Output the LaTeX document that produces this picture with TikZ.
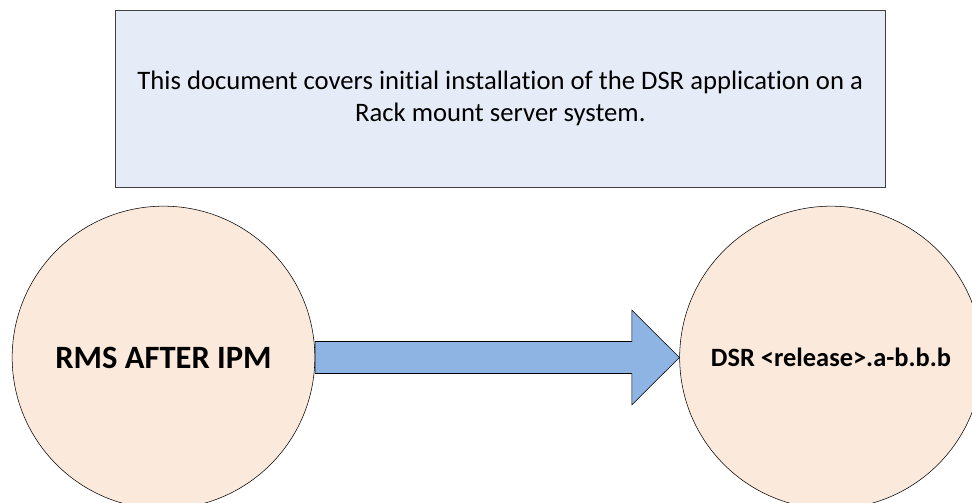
\documentclass[tikz,border=0pt]{standalone}
\usepackage{fontspec}
\setmainfont{Carlito}[Ligatures=NoCommon]
\definecolor{notefill}{HTML}{E6ECF7}
\definecolor{notedraw}{HTML}{404040}
\definecolor{stagefill}{HTML}{FBE9DC}
\definecolor{flowfill}{HTML}{8EB4E3}
\begin{document}
\begin{tikzpicture}[x=0.75pt,y=-0.75pt]
            \clip (0,0) rectangle (972,503);
            \begin{scope}[every node/.style={circle,draw=black,fill=stagefill,inner sep=0pt,minimum size=227pt,font=\bfseries}]
                \node (rms)[font=\fontsize{24.4}{29}\selectfont\bfseries] at (163.5,357.5) {RMS AFTER IPM};
                \node (dsr)[font=\fontsize{19.8}{24}\selectfont\bfseries] at (831,357.5) {DSR <release>.a-b.b.b};
            \end{scope}

            \node (note)[draw=notedraw,fill=notefill,minimum width=578pt,minimum height=133pt,align=center,font=\fontsize{20}{24}\selectfont] at (500.3,98.8)
                {This document covers initial installation of the DSR application on a\\Rack mount server system.};

            \begin{scope}
                \draw [fill=flowfill] (rms.east) ++(0,-16) -- ++(316.7,0) -- ++(0,-31.5) -- (dsr.west)
                    -- ++(-47.6,47.5) -- ++(0,-31.5) -- ++(-316.7,0) -- cycle;
            \end{scope}
            \end{tikzpicture}
\end{document}
